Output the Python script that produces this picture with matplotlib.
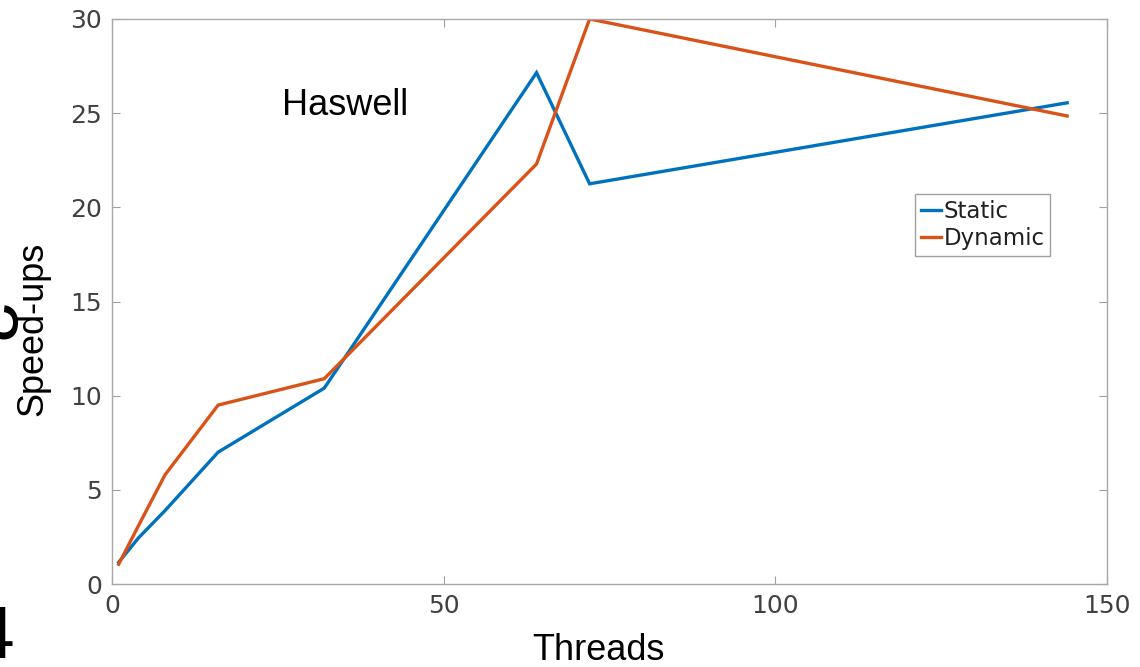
import matplotlib
matplotlib.use("Agg")
import matplotlib.pyplot as plt

threads = [1, 4, 8, 16, 32, 64, 72, 144]
static = [1.15, 2.45, 3.9, 7.0, 10.4, 27.15, 21.25, 25.55]
dynamic = [1.05, 3.1, 5.8, 9.5, 10.9, 22.3, 30.0, 24.85]

xticks = [0, 50, 100, 150]
yticks = [0, 5, 10, 15, 20, 25, 30]

W, H = 1140, 667
fig = plt.figure(figsize=(W / 100, H / 100), dpi=100)
ax = fig.add_axes([112 / W, 1 - 584 / H, (1107 - 112) / W, (584 - 19) / H])

ax.plot(threads, static, color='#0072BD', lw=2.4, label='Static', solid_joinstyle='miter')
ax.plot(threads, dynamic, color='#D95319', lw=2.4, label='Dynamic', solid_joinstyle='miter')

ax.set_xlim(0, 150)
ax.set_ylim(0, 30)
ax.set_xticks(xticks)
ax.set_yticks(yticks)
ax.tick_params(direction='in', length=6, width=0.8, color='#a0a0a0',
               labelsize=18, labelcolor='#404040', top=True, right=True, pad=7)
for s in ax.spines.values():
    s.set_color('#a8a8a8')
    s.set_linewidth(1.0)

ax.text(25.6, 25.4, 'Haswell', family='Liberation Sans', fontsize=26, va='center', ha='left')

leg = ax.legend(loc='upper left', bbox_to_anchor=(915 / W, 1 - 194 / H),
                bbox_transform=fig.transFigure, borderaxespad=0, fancybox=False,
                framealpha=1, edgecolor='#a0a0a0', fontsize=16.5, handlelength=0.9,
                handletextpad=0.1, borderpad=0.25, labelspacing=0.2)
leg.get_frame().set_linewidth(1.0)
for t in leg.get_texts():
    t.set_color('#202020')

fig.text(598 / W, 1 - 650 / H, 'Threads', family='Liberation Sans', fontsize=26,
         ha='center', va='center')
fig.text(33 / W, 1 - 329 / H, 'Speed-ups', family='Liberation Sans', fontsize=26,
         ha='center', va='center', rotation=90)

# clipped bits of larger slide text at the left edge
fig.text(16 / W, 1 - 325 / H, '2', family='Liberation Sans', fontsize=56,
         ha='right', va='center', rotation=270)
fig.text(14 / W, 1 - 658 / H, '4', family='Liberation Sans', fontsize=54,
         ha='right', va='baseline')

fig.savefig('out.png', dpi=100)
